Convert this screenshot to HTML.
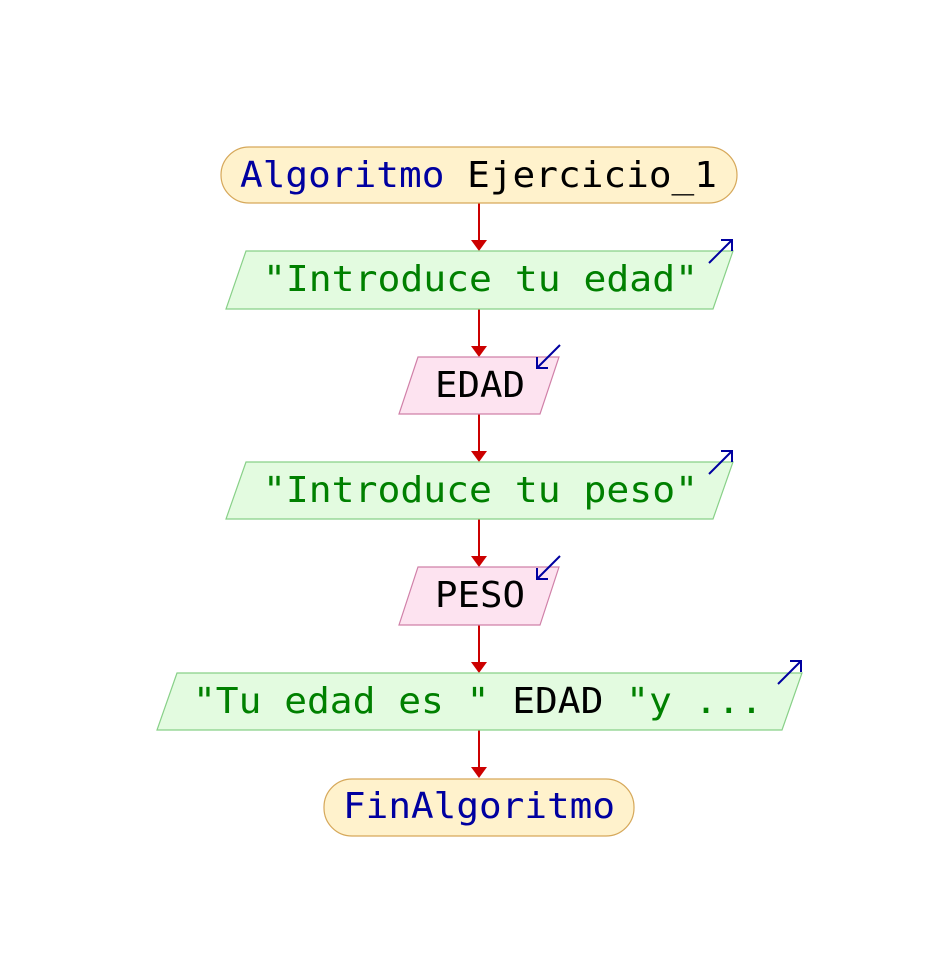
<!DOCTYPE html>
<html><head><meta charset="utf-8"><style>
html,body{margin:0;padding:0;background:#fff;}
svg{display:block;}
text{font-family:"DejaVu Sans Mono","Liberation Mono",monospace;font-size:36px;}
</style></head><body>
<svg width="932" height="960" viewBox="0 0 932 960" xmlns="http://www.w3.org/2000/svg">
<g stroke="#cc0000" stroke-width="2" fill="none">
<line x1="479" y1="203" x2="479" y2="242"/>
<line x1="479" y1="309" x2="479" y2="348"/>
<line x1="479" y1="414" x2="479" y2="453"/>
<line x1="479" y1="519" x2="479" y2="558"/>
<line x1="479" y1="625" x2="479" y2="664"/>
<line x1="479" y1="730" x2="479" y2="769"/>
</g>
<g fill="#cc0000">
<polygon points="471,240 487,240 479,251"/>
<polygon points="471,346 487,346 479,357"/>
<polygon points="471,451 487,451 479,462"/>
<polygon points="471,556 487,556 479,567"/>
<polygon points="471,662 487,662 479,673"/>
<polygon points="471,767 487,767 479,778"/>
</g>
<rect x="221" y="147" width="516" height="56" rx="28" fill="#fff2cc" stroke="#d6a85a" stroke-width="1.2"/>
<text x="240" y="187" textLength="477" lengthAdjust="spacingAndGlyphs"><tspan fill="#0000a0">Algoritmo</tspan><tspan fill="#000"> Ejercicio_1</tspan></text>

<polygon points="246,251 733,251 713,309 226,309" fill="#e3fbe0" stroke="#88d088" stroke-width="1.2"/>
<text x="263" y="291" fill="#008000" textLength="435" lengthAdjust="spacingAndGlyphs">"Introduce tu edad"</text>

<polygon points="418,357 559,357 540,414 399,414" fill="#fde3f0" stroke="#d080a8" stroke-width="1.2"/>
<text x="435" y="397" fill="#000" textLength="90" lengthAdjust="spacingAndGlyphs">EDAD</text>

<polygon points="246,462 733,462 713,519 226,519" fill="#e3fbe0" stroke="#88d088" stroke-width="1.2"/>
<text x="263" y="502" fill="#008000" textLength="435" lengthAdjust="spacingAndGlyphs">"Introduce tu peso"</text>

<polygon points="418,567 559,567 540,625 399,625" fill="#fde3f0" stroke="#d080a8" stroke-width="1.2"/>
<text x="435" y="607" fill="#000" textLength="90" lengthAdjust="spacingAndGlyphs">PESO</text>

<polygon points="177,673 802,673 782,730 157,730" fill="#e3fbe0" stroke="#88d088" stroke-width="1.2"/>
<text x="193" y="713" textLength="570" lengthAdjust="spacingAndGlyphs"><tspan fill="#008000">"Tu edad es "</tspan><tspan fill="#000"> EDAD </tspan><tspan fill="#008000">"y ...</tspan></text>

<rect x="324" y="779" width="310" height="57" rx="28" fill="#fff2cc" stroke="#d6a85a" stroke-width="1.2"/>
<text x="343" y="818" fill="#0000a0" textLength="272" lengthAdjust="spacingAndGlyphs">FinAlgoritmo</text>

<g stroke="#0000a0" stroke-width="2" fill="none">
<path d="M709,263 L732,240 M721,240 L732,240 L732,251"/>
<path d="M709,474 L732,451 M721,451 L732,451 L732,462"/>
<path d="M778,684 L801,661 M790,661 L801,661 L801,672"/>
<path d="M560,345 L537,368 M537,357 L537,368 L548,368"/>
<path d="M560,556 L537,579 M537,568 L537,579 L548,579"/>
</g>
</svg>
</body></html>
